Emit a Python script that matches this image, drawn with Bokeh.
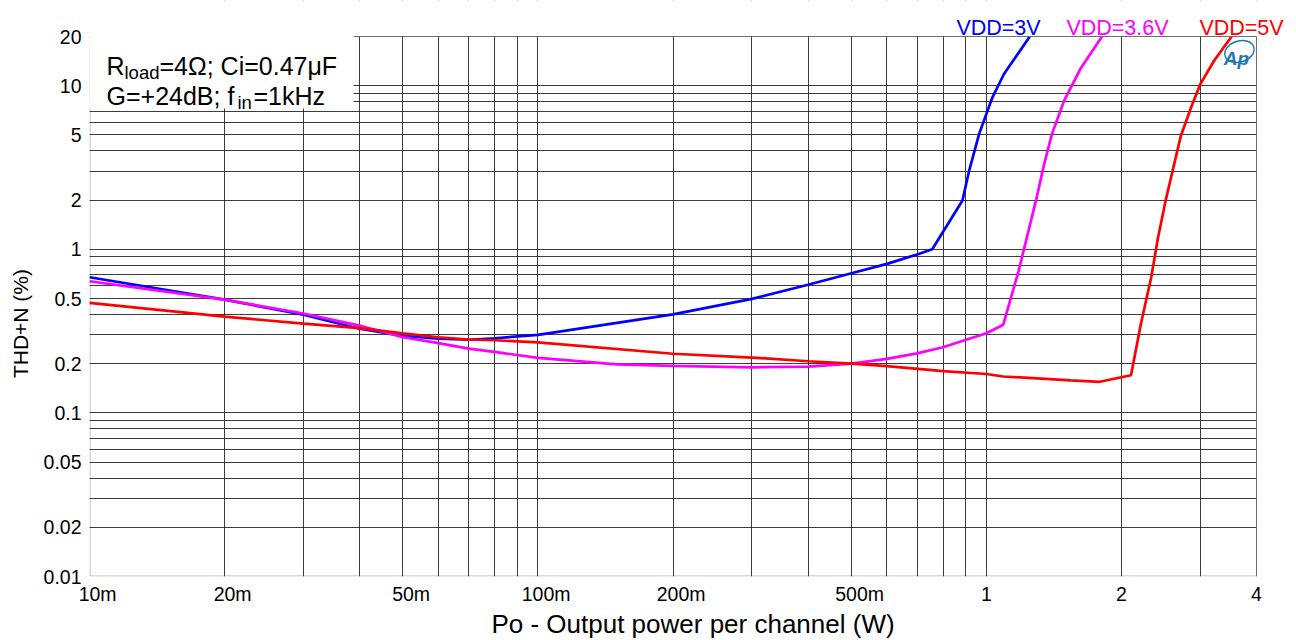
import math
from bokeh.plotting import figure
from bokeh.models import FixedTicker, Label, BoxAnnotation, Range1d
from bokeh.embed import file_html
from bokeh.resources import INLINE

# ---------------- data ----------------
x_3v = [0.01, 0.02, 0.03, 0.04, 0.05, 0.06, 0.07, 0.08, 0.1, 0.2, 0.3, 0.4, 0.5, 0.6, 0.7,
        0.757, 0.884, 0.915, 0.963, 1.031, 1.094, 1.249]
y_3v = [0.675, 0.493, 0.398, 0.327, 0.296, 0.284, 0.28, 0.286, 0.300, 0.40, 0.498, 0.607, 0.714, 0.815, 0.93,
        1.0, 1.99, 3.03, 5.08, 8.5, 11.8, 20]

x_36v = [0.01, 0.02, 0.03, 0.04, 0.05, 0.06, 0.07, 0.08, 0.1, 0.15, 0.2, 0.3, 0.4, 0.5, 0.6, 0.7,
         0.8, 0.9, 1.0, 1.09, 1.18, 1.29, 1.345, 1.40, 1.49, 1.62, 1.81]
y_36v = [0.638, 0.493, 0.405, 0.342, 0.29, 0.267, 0.247, 0.236, 0.217, 0.198, 0.194, 0.19, 0.192, 0.2, 0.214, 0.231,
         0.252, 0.28, 0.307, 0.346, 0.742, 2.0, 3.33, 5.08, 8.11, 12.7, 20]

x_5v = [0.01, 0.02, 0.03, 0.04, 0.05, 0.06, 0.07, 0.08, 0.1, 0.2, 0.3, 0.4, 0.5, 0.6, 0.8, 1.0,
        1.09, 1.54, 1.79, 2.10, 2.21, 2.33, 2.41, 2.51, 2.71, 2.86, 3.0, 3.22, 3.52]
y_5v = [0.471, 0.388, 0.351, 0.33, 0.307, 0.29, 0.281, 0.278, 0.27, 0.23, 0.218, 0.207, 0.2, 0.193, 0.18, 0.173,
        0.167, 0.158, 0.155, 0.170, 0.351, 0.675, 1.16, 2.0, 4.89, 7.39, 10.27, 14.26, 20]

series_names = ["VDD=3V", "VDD=3.6V", "VDD=5V"]
series_colors = ["#0000FF", "#FF00FF", "#FF0000"]

x_tick_vals = [0.01, 0.02, 0.05, 0.1, 0.2, 0.5, 1, 2, 4]
x_tick_labels = ["10m", "20m", "50m", "100m", "200m", "500m", "1", "2", "4"]
y_tick_vals = [0.01, 0.02, 0.05, 0.1, 0.2, 0.5, 1, 2, 5, 10, 20]
y_tick_labels = ["0.01", "0.02", "0.05", "0.1", "0.2", "0.5", "1", "2", "5", "10", "20"]

x_grid_vals = [m * d for d in (0.01, 0.1, 1) for m in range(1, 10) if m * d <= 4.0001]
y_grid_vals = [m * d for d in (0.01, 0.1, 1) for m in range(1, 10)] + [10, 20]

# ---------------- layout ----------------
W, H = 1296, 640
BL, BT, BW, BH = 89, 36, 1167, 540          # visible plot box (pixels)
XMIN, XMAX, YMIN, YMAX = 0.01, 4.0, 0.01, 20.0
NB = "\u00a0"


def px2x(px):
    return 10 ** (math.log10(XMIN) + (px - BL) / BW * math.log10(XMAX / XMIN))


def py2y(py):
    return 10 ** (math.log10(YMIN) + (BT + BH - py) / BH * math.log10(YMAX / YMIN))


FONT = "Liberation Sans"

# the frame is extended to the top and right edges of the page so that the
# series labels above the box can be drawn; the box itself is 0.01..4 x 0.01..20
p = figure(frame_width=W - BL, frame_height=BT + BH,
           x_axis_type="log", y_axis_type="log",
           x_range=Range1d(XMIN, px2x(W)), y_range=Range1d(YMIN, py2y(0)),
           output_backend="svg", toolbar_location=None,
           min_border_left=BL, min_border_top=0,
           min_border_right=0, min_border_bottom=H - BT - BH,
           background_fill_color="white", border_fill_color="white")

p.outline_line_color = None

# axes (the numbers of the "m" labels are centred on their tick, as in the reference)
x_label_map = {v: (NB * 3 + t if t.endswith("m") else t) for v, t in zip(x_tick_vals, x_tick_labels)}
p.xaxis.ticker = FixedTicker(ticks=x_tick_vals)
p.xaxis.major_label_overrides = x_label_map
p.yaxis.ticker = FixedTicker(ticks=y_tick_vals)
p.yaxis.major_label_overrides = dict(zip(y_tick_vals, y_tick_labels))
for ax in (p.xaxis, p.yaxis):
    ax.major_tick_in = 0
    ax.major_tick_out = 0
    ax.minor_tick_line_color = None
    ax.axis_line_color = None
    ax.major_label_text_font = FONT
    ax.major_label_text_font_size = "19.5px"
    ax.major_label_text_color = "black"
    ax.axis_label_text_font = FONT
    ax.axis_label_text_font_style = "normal"
    ax.axis_label_text_color = "black"
p.xaxis.major_label_standoff = 6
p.yaxis.major_label_standoff = 8
p.xaxis.axis_label = "Po - Output power per channel (W)"
p.xaxis.axis_label_text_font_size = "26px"
p.xaxis.axis_label_standoff = 1
p.yaxis.axis_label = "THD+N (%)" + NB * 12
p.yaxis.axis_label_text_font_size = "21px"
p.yaxis.axis_label_standoff = 9

# grids
p.xgrid.ticker = FixedTicker(ticks=x_grid_vals)
p.ygrid.ticker = FixedTicker(ticks=y_grid_vals)
for g in (p.xgrid, p.ygrid):
    g.grid_line_color = "#1a1a1a"
    g.grid_line_alpha = 0.85
    g.grid_line_width = 1

# curves
for xs, ys, c in zip([x_3v, x_36v, x_5v], [y_3v, y_36v, y_5v], series_colors):
    p.line(xs, ys, line_color=c, line_width=2.7)

# white areas outside the visible box (above and to the right)
p.add_layout(BoxAnnotation(left=XMIN, right=px2x(W), bottom=YMAX, top=py2y(0),
                           fill_color="white", fill_alpha=1.0, line_color=None, level="annotation"))
p.add_layout(BoxAnnotation(left=XMAX, right=px2x(W), bottom=YMIN, top=py2y(0),
                           fill_color="white", fill_alpha=1.0, line_color=None, level="annotation"))
# the box outline
p.add_layout(BoxAnnotation(left=px2x(BL + 0.5), right=XMAX, bottom=py2y(BT + BH - 0.5), top=YMAX,
                           fill_color=None, line_color="black", line_width=1, level="annotation"))

# white annotation box (top-left)
p.add_layout(BoxAnnotation(left=px2x(86), right=px2x(353), bottom=py2y(108), top=py2y(33),
                           fill_color="white", fill_alpha=1.0, line_color=None, level="overlay"))


def lab(text, px, py, size, color="black", align="left", style="normal"):
    p.add_layout(Label(x=px2x(px), y=py2y(py), text=text, text_font=FONT,
                       text_font_size=size, text_color=color, text_align=align,
                       text_baseline="alphabetic", text_font_style=style, level="overlay"))


# annotation text with subscripts
lab("R", 106, 65, "25px")
lab("load", 124, 72, "18.5px")
lab("=4Ω; Ci=0.47μF", 159, 65, "25px")
lab("G=+24dB; f", 106, 95, "25px")
lab("in", 237, 102, "18.5px")
lab("=1kHz", 253, 95, "25px")

# series labels above the plot box
for name, c, cx in zip(series_names, series_colors, [998, 1117, 1241]):
    lab(name, cx, 27, "21.5px", color=c, align="center")

# Ap logo
lab("Ap", 1236, 58, "19px", color="#1f78b4", align="center", style="bold italic")
p.ellipse(x=[px2x(1239)], y=[py2y(51)], width=30, height=21, width_units="screen",
          height_units="screen", angle=0.3, fill_color=None, line_color="#1f78b4", line_width=1.4)

open("out.html", "w").write(file_html(p, INLINE))
